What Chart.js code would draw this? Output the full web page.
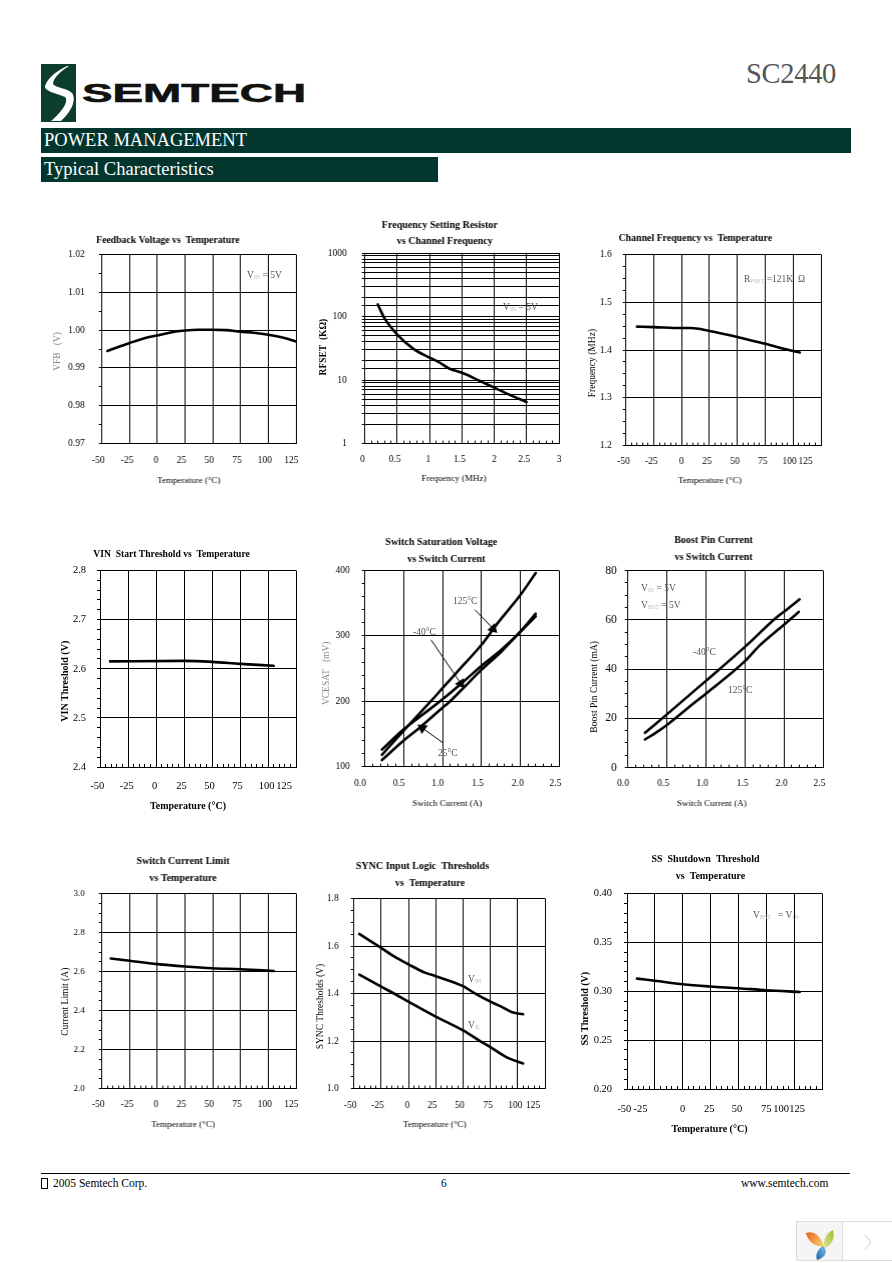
<!DOCTYPE html>
<html>
<head>
<meta charset="utf-8">
<title>SC2440 Typical Characteristics</title>
<script src="https://cdn.jsdelivr.net/npm/chart.js@4/dist/chart.umd.min.js"></script>
<style>
html, body { margin: 0; padding: 0; background: #fff; }
#page { position: relative; width: 892px; height: 1263px; overflow: hidden; font-family: "Liberation Serif", serif; color: #000; }
#page canvas { position: absolute; }
.band { position: absolute; left: 41px; background: #03352f; color: #fff; font-size: 18.5px; line-height: 25px; height: 25px; padding-left: 3px; box-sizing: border-box; }
.note { position: absolute; font-size: 9.5px; line-height: 10px; white-space: nowrap; color: #555; transform: translateY(-50%); z-index: 2; }
.note sub { font-size: 6px; color: #bbb; vertical-align: -1px; }
.foot { position: absolute; top: 1176px; font-size: 11.5px; line-height: 14px; white-space: nowrap; }
</style>
</head>
<body>
<div id="page">
  <svg style="position:absolute;left:41px;top:64px" width="265" height="58" viewBox="0 0 265 58">
    <rect x="0" y="0" width="35" height="58" fill="#0c3d2e"/>
    <path d="M26 2 C14 8 7 14 4 22 C3 27 14 29 24 33 C28 37 22 47 10 57 L20 57 C30 48 36 36 31 29 C26 24 15 24 12 20 C12 14 20 7 28 2 Z" fill="#fff"/>
    <text x="41" y="38" font-family="Liberation Sans" font-weight="bold" font-size="26" textLength="224" lengthAdjust="spacingAndGlyphs" fill="#111" stroke="#111" stroke-width="0.6">SEMTECH</text>
  </svg>
  <div style="position:absolute;left:746px;top:58px;font-size:28.5px;line-height:32px;color:#555;letter-spacing:-0.3px">SC2440</div>
  <div class="band" style="top:128px;width:810px">POWER MANAGEMENT</div>
  <div class="band" style="top:157px;width:397px">Typical Characteristics</div>

  <span class="note" style="left:247px;top:276px">V<sub>IN</sub> = 5V</span>
  <span class="note" style="left:503px;top:308px">V<sub>IN</sub> = 5V</span>
  <span class="note" style="left:744px;top:280px">R<sub>FSET</sub> =121K&nbsp;&nbsp;&Omega;</span>
  <span class="note" style="left:453px;top:601px">125°C</span>
  <span class="note" style="left:413px;top:632px">-40°C</span>
  <span class="note" style="left:438px;top:753px">25°C</span>
  <span class="note" style="left:641px;top:589px">V<sub>IN</sub> = 5V</span>
  <span class="note" style="left:641px;top:606px">V<sub>BST</sub> = 5V</span>
  <span class="note" style="left:693px;top:652px">-40°C</span>
  <span class="note" style="left:728px;top:690px">125°C</span>
  <span class="note" style="left:468px;top:980px">V<sub>IH</sub></span>
  <span class="note" style="left:468px;top:1026px">V<sub>IL</sub></span>
  <span class="note" style="left:753px;top:916px">V<sub>BST</sub>&nbsp;&nbsp;&nbsp;= V<sub>IN</sub>&nbsp;&nbsp;&nbsp;</span>

  <div style="position:absolute;left:41px;top:1173px;width:809px;height:1px;background:#000"></div>
  <span class="foot" style="left:41px;width:5px;height:9px;top:1178px;border:1px solid #000"></span>
  <span class="foot" style="left:53px">2005 Semtech Corp.</span>
  <span class="foot" style="left:441px">6</span>
  <span class="foot" style="left:741px">www.semtech.com</span>

  <div style="position:absolute;left:796px;top:1221px;width:97px;height:40px;border:1px solid #dedede;box-sizing:border-box;background:#fff">
    <div style="position:absolute;left:0;top:0;width:45px;height:38px;background:#f5f5f5;border-right:1px solid #dedede"></div>
    <svg style="position:absolute;left:9px;top:8px" width="30" height="31" viewBox="0 0 30 31">
      <defs>
        <linearGradient id="leafA" x1="0" y1="0" x2="1" y2="0.6"><stop offset="0" stop-color="#e8601a"/><stop offset="1" stop-color="#f5c96a"/></linearGradient>
        <linearGradient id="leafB" x1="1" y1="0" x2="0" y2="1"><stop offset="0" stop-color="#9cc02e"/><stop offset="1" stop-color="#dfe39a"/></linearGradient>
        <linearGradient id="leafC" x1="1" y1="0" x2="0" y2="1"><stop offset="0" stop-color="#8cc2ea"/><stop offset="1" stop-color="#0f62b0"/></linearGradient>
      </defs>
      <path d="M0 3 C6 1 14 3 18 17 C10 17 2 12 0 3 Z" fill="url(#leafA)"/>
      <path d="M18 16 C17 9 21 3 27 0 C29 8 26 15 19 18 Z" fill="url(#leafB)"/>
      <path d="M17 16 C22 20 21 27 11 30 C9 24 12 19 17 16 Z" fill="url(#leafC)"/>
    </svg>
    <svg style="position:absolute;left:66px;top:11px" width="10" height="18" viewBox="0 0 10 18"><path d="M2 2 L8 9 L2 16" fill="none" stroke="#c9c9c9"/></svg>
  </div>
</div>

<script>
// x axes
const tempTicks = [-50, -25, 0, 25, 50, 75, 100, 125];
const tempLabels = ['-50', '-25', '0', '25', '50', '75', '100', '125'];
const freqTicks = [0, 0.5, 1, 1.5, 2, 2.5, 3];
const freqLabels = ['0', '0.5', '1', '1.5', '2', '2.5', '3'];
const currentTicks = [0, 0.5, 1, 1.5, 2, 2.5];
const currentLabels = ['0.0', '0.5', '1.0', '1.5', '2.0', '2.5'];

// feedback voltage
const fbTemp = [-45, -25, -10, 0, 12, 25, 37, 50, 62, 75, 87, 100, 112, 125];
const fbVolt = [0.9945, 0.9966, 0.998, 0.9986, 0.9994, 0.9999, 1.0001, 1.0001, 1.0, 0.9996, 0.9993, 0.9988, 0.9981, 0.997];
const fbTicks = [0.97, 0.98, 0.99, 1.0, 1.01, 1.02];
const fbLabels = ['0.97', '0.98', '0.99', '1.00', '1.01', '1.02'];

// frequency setting resistor
const rfFreq = [0.2, 0.3, 0.5, 0.75, 1, 1.15, 1.3, 1.5, 1.75, 2, 2.25, 2.5];
const rfKohm = [155, 95, 52, 31, 22.5, 19, 15.2, 13, 10, 7.6, 5.8, 4.5];

// channel frequency
const chTemp = [-40, -25, 0, 8, 25, 50, 75, 100, 106];
const chFreq = [1.449, 1.448, 1.446, 1.446, 1.44, 1.4275, 1.413, 1.398, 1.395];
const chTicks = [1.2, 1.3, 1.4, 1.5, 1.6];
const chLabels = ['1.2', '1.3', '1.4', '1.5', '1.6'];

// VIN start threshold
const startTemp = [-41, 25, 50, 75, 105];
const startVolt = [2.615, 2.616, 2.614, 2.61, 2.606];
const startTicks = [2.4, 2.5, 2.6, 2.7, 2.8];
const startLabels = ['2.4', '2.5', '2.6', '2.7', '2.8'];

// switch saturation voltage
const sat125Amp = [0.22, 0.5, 0.85, 1, 1.25, 1.5, 1.7, 2, 2.2];
const sat125Mv = [118, 155, 200, 220, 253, 286, 318, 362, 396];
const satM40Amp = [0.22, 0.5, 0.75, 1, 1.25, 1.5, 1.75, 2, 2.2];
const satM40Mv = [126, 157, 180, 203, 228, 254, 278, 306, 334];
const sat25Amp = [0.22, 0.5, 0.65, 1, 1.08, 1.25, 1.5, 1.75, 2, 2.2];
const sat25Mv = [110, 140, 154, 190, 198, 218, 248, 275, 306, 330];
const satTicks = [100, 200, 300, 400];
const satLabels = ['100', '200', '300', '400'];
const arrow125Amp = [1.417, 1.652];
const arrow125Mv = [340, 311];
const arrowM40Amp = [0.852, 1.237];
const arrowM40Mv = [294, 227];
const arrow25Amp = [1.01, 0.74];
const arrow25Mv = [136, 159];

// boost pin current
const boostM40Amp = [0.22, 0.5, 1, 1.5, 1.9, 2.05, 2.2];
const boostM40Ma = [14.1, 21.6, 35.2, 49, 60.8, 64.5, 68.3];
const boost125Amp = [0.22, 0.39, 0.5, 0.84, 1, 1.5, 1.69, 2, 2.19];
const boost125Ma = [11.4, 14.8, 17.3, 26, 30, 43.2, 49.6, 58, 63.2];
const boostTicks = [0, 20, 40, 60, 80];
const boostLabels = ['0', '20', '40', '60', '80'];

// switch current limit
const limitTemp = [-42, -25, 0, 25, 50, 75, 105];
const limitAmp = [2.667, 2.655, 2.638, 2.626, 2.617, 2.612, 2.603];
const limitTicks = [2.0, 2.2, 2.4, 2.6, 2.8, 3.0];
const limitLabels = ['2.0', '2.2', '2.4', '2.6', '2.8', '3.0'];

// SYNC thresholds
const vihTemp = [-45, -25, -12, 0, 15, 25, 50, 60, 75, 85, 95, 105];
const vihVolt = [1.651, 1.592, 1.553, 1.523, 1.488, 1.473, 1.431, 1.403, 1.366, 1.345, 1.321, 1.313];
const vilTemp = [-45, -25, -12, 0, 25, 50, 66, 75, 91, 105];
const vilVolt = [1.48, 1.429, 1.397, 1.366, 1.303, 1.245, 1.199, 1.175, 1.129, 1.106];
const syncTicks = [1.0, 1.2, 1.4, 1.6, 1.8];
const syncLabels = ['1.0', '1.2', '1.4', '1.6', '1.8'];

// SS shutdown threshold
const ssTemp = [-41, -25, 0, 25, 50, 75, 105];
const ssVolt = [0.3129, 0.3108, 0.3071, 0.3048, 0.3031, 0.301, 0.2993];
const ssTicks = [0.2, 0.25, 0.3, 0.35, 0.4];
const ssLabels = ['0.20', '0.25', '0.30', '0.35', '0.40'];

const SERIF = '"Liberation Serif", serif';

// NBSP padding moves centred canvas text, the scale has no per label offset
function nudge(text, px, size) {
    const count = Math.round(Math.abs(px) * 2 / (0.25 * size));
    const pad = '\u00a0'.repeat(count);
    return px > 0 ? pad + text : text + pad;
}

function points(xs, ys) {
    return xs.map((x, i) => ({ x: x, y: ys[i] }));
}

function curve(xs, ys) {
    return {
        data: points(xs, ys),
        borderColor: '#000',
        borderWidth: 2.6,
        pointRadius: 0,
        cubicInterpolationMode: 'monotone',
        borderCapStyle: 'round',
        fill: false,
    };
}

function arrow(xs, ys, heading) {
    return {
        data: points(xs, ys),
        borderColor: '#000',
        backgroundColor: '#000',
        borderWidth: 1,
        tension: 0,
        pointStyle: 'triangle',
        pointRadius: [0, 6],
        pointBorderWidth: 0,
        pointRotation: heading,
    };
}

function stepsBetween(majors, minorStep) {
    const out = [];
    const lo = majors[0];
    const hi = majors[majors.length - 1];
    const n = Math.round((hi - lo) / minorStep);
    for (let i = 0; i <= n; i++) {
        out.push(+(lo + i * minorStep).toFixed(5));
    }
    return out;
}

function isMajor(majors, v) {
    return majors.some(m => Math.abs(m - v) < 1e-6);
}

/**
 * builds one chart; plot is the inner rectangle on the page, the canvas
 * is placed around it so that titles land where the sheet has them
 */
function addChart(o) {
    const titleSize = o.titleSize || 10;
    const titleLine = o.titleLine || 17;
    const lines = o.title.length;
    const yTitleSize = o.yTitleSize || 9.5;
    const xTitleSize = o.xTitleSize || 9;
    const tickSize = o.tickSize || 9.5;
    const yTickSize = o.yTickSize || tickSize;

    const left = o.yTitleX - yTitleSize * 0.6;
    const top = o.titleY - titleLine / 2;
    const right = o.plot.r + 18;
    const bottom = o.xTitleY + xTitleSize * 0.6;

    const canvas = document.createElement('canvas');
    canvas.style.left = left + 'px';
    canvas.style.top = top + 'px';
    canvas.style.width = (right - left) + 'px';
    canvas.style.height = (bottom - top) + 'px';
    canvas.width = right - left;
    canvas.height = bottom - top;
    document.getElementById('page').appendChild(canvas);

    // title box runs from the canvas edge to the right layout padding
    const titleMid = (left + o.plot.r) / 2;
    const titleText = o.title.map((t, i) => nudge(t, (o.titleCx[i] - titleMid), titleSize));
    const plotCx = (o.plot.l + o.plot.r) / 2;
    const plotCy = (o.plot.t + o.plot.b) / 2;

    const xOpts = {
        type: 'linear',
        min: o.xTicks[0],
        max: o.xTicks[o.xTicks.length - 1],
        afterBuildTicks: s => { s.ticks = stepsBetween(o.xTicks, o.xMinor || (o.xTicks[1] - o.xTicks[0])).map(v => ({ value: v })); },
        afterFit: s => {
            s.height = bottom - o.plot.b;
            s.paddingLeft = 0;
            s.paddingRight = 0;
        },
        grid: {
            color: c => isMajor(o.xTicks, c.tick.value) ? '#000' : 'rgba(0,0,0,0)',
            tickColor: '#000',
            tickLength: -3,
            lineWidth: 1,
        },
        border: { color: '#000' },
        ticks: {
            autoSkip: false,
            maxRotation: 0,
            color: '#000',
            padding: o.xLabelDy + 3 - tickSize * 0.6,
            font: { family: SERIF, size: tickSize },
            callback: v => {
                const i = o.xTicks.findIndex(m => Math.abs(m - v) < 1e-6);
                return i < 0 ? '' : nudge(o.xLabels[i], o.xNudge[i], tickSize);
            },
        },
        title: {
            display: true,
            text: nudge(o.xTitle, o.xTitleCx - plotCx, xTitleSize),
            color: '#000',
            padding: 0,
            font: { family: SERIF, size: xTitleSize, weight: o.xTitleBold ? 'bold' : 'normal', lineHeight: 1.2 },
        },
    };

    const yOpts = {
        min: o.yTicks[0],
        max: o.yTicks[o.yTicks.length - 1],
        afterFit: s => {
            s.width = o.plot.l - left;
            s.paddingTop = 0;
            s.paddingBottom = 0;
        },
        grid: {
            color: '#000',
            tickColor: '#000',
            tickLength: 3,
            lineWidth: 1,
        },
        border: { color: '#000' },
        ticks: {
            autoSkip: false,
            color: '#000',
            padding: o.yLabelGap - 3,
            font: { family: SERIF, size: yTickSize },
        },
        title: {
            display: true,
            text: nudge(o.yTitle, -(o.yTitleCy - plotCy), yTitleSize),
            color: o.yTitleColor || '#000',
            padding: 0,
            font: { family: SERIF, size: yTitleSize, weight: o.yTitleBold ? 'bold' : 'normal', lineHeight: 1.2 },
        },
    };

    if (o.logY) {
        yOpts.type = 'logarithmic';
        yOpts.ticks.callback = v => (isMajor(o.yTicks, v) ? String(v) : '');
    } else {
        yOpts.type = 'linear';
        yOpts.afterBuildTicks = s => { s.ticks = stepsBetween(o.yTicks, o.yMinor).map(v => ({ value: v })); };
        yOpts.grid.color = c => isMajor(o.yTicks, c.tick.value) ? '#000' : 'rgba(0,0,0,0)';
        yOpts.ticks.callback = v => {
            const i = o.yTicks.findIndex(m => Math.abs(m - v) < 1e-6);
            return i < 0 ? '' : o.yLabels[i];
        };
    }

    return new Chart(canvas, {
        type: 'line',
        data: { datasets: o.datasets },
        options: {
            responsive: false,
            animation: false,
            devicePixelRatio: 1,
            layout: { padding: { right: right - o.plot.r } },
            plugins: {
                legend: { display: false },
                tooltip: { enabled: false },
                title: {
                    display: true,
                    text: titleText,
                    color: '#000',
                    padding: { top: 0, bottom: (o.plot.t - top) - lines * titleLine },
                    font: { family: SERIF, size: titleSize, weight: 'bold', lineHeight: titleLine / titleSize },
                },
            },
            scales: { x: xOpts, y: yOpts },
        },
    });
}

addChart({
    plot: { l: 102, t: 254, r: 296, b: 444 },
    title: ['Feedback Voltage vs  Temperature'], titleCx: [168.5], titleY: 240, titleSize: 9.7,
    xTicks: tempTicks, xLabels: tempLabels, xNudge: [-4, -2, -1, -3, -3, -3, -3, -5], xLabelDy: 17,
    xTitle: 'Temperature (°C)', xTitleCx: 188.5, xTitleY: 481,
    yTicks: fbTicks, yLabels: fbLabels, yMinor: 0.005, yLabelGap: 17,
    yTitle: 'VFB   (V)', yTitleX: 58, yTitleCy: 351, yTitleColor: '#888',
    datasets: [curve(fbTemp, fbVolt)],
});

addChart({
    plot: { l: 365, t: 253, r: 559, b: 444 },
    title: ['Frequency Setting Resistor', 'vs Channel Frequency'], titleCx: [439.5, 444.5], titleY: 225, titleLine: 16,
    xTicks: freqTicks, xLabels: freqLabels, xNudge: [-2, -2, -1, -2, 0, -2, 0], xMinor: 0.1, xLabelDy: 16,
    xTitle: 'Frequency (MHz)', xTitleCx: 454, xTitleY: 479,
    yTicks: [1, 10, 100, 1000], logY: true, yLabelGap: 18,
    yTitle: 'RFSET  (KΩ)', yTitleX: 324, yTitleCy: 347, yTitleBold: true,
    datasets: [curve(rfFreq, rfKohm)],
});

addChart({
    plot: { l: 626, t: 254, r: 821, b: 446 },
    title: ['Channel Frequency vs  Temperature'], titleCx: [695], titleY: 238, titleSize: 9.8,
    xTicks: tempTicks, xLabels: tempLabels, xNudge: [-2, -2, 0, -2, -2, -2, -3, -15], xMinor: 5, xLabelDy: 16,
    xTitle: 'Temperature (°C)', xTitleCx: 710.5, xTitleY: 481,
    yTicks: chTicks, yLabels: chLabels, yMinor: 0.025, yLabelGap: 14,
    yTitle: 'Frequency (MHz)', yTitleX: 593, yTitleCy: 363,
    datasets: [curve(chTemp, chFreq)],
});

addChart({
    plot: { l: 100, t: 570, r: 296, b: 767 },
    title: ['VIN  Start Threshold vs  Temperature'], titleCx: [171.5], titleY: 554, titleSize: 9.6,
    xTicks: tempTicks, xLabels: tempLabels, xNudge: [-3, -1, -1, -2, -2, -2, -1, -12], xMinor: 5, xLabelDy: 19, tickSize: 10.5,
    xTitle: 'Temperature (°C)', xTitleCx: 187.5, xTitleY: 806, xTitleBold: true, xTitleSize: 10,
    yTicks: startTicks, yLabels: startLabels, yMinor: 0.02, yLabelGap: 14,
    yTitle: 'VIN Threshold (V)', yTitleX: 65, yTitleCy: 681, yTitleBold: true, yTitleSize: 10,
    datasets: [curve(startTemp, startVolt)],
});

addChart({
    plot: { l: 365, t: 570, r: 559, b: 767 },
    title: ['Switch Saturation Voltage', 'vs Switch Current'], titleCx: [441.5, 447], titleY: 542,
    xTicks: currentTicks, xLabels: currentLabels, xNudge: [-5, -5, -5, -3, -2, -3], xMinor: 0.1, xLabelDy: 17,
    xTitle: 'Switch Current (A)', xTitleCx: 447.5, xTitleY: 804,
    yTicks: satTicks, yLabels: satLabels, yMinor: 20, yLabelGap: 15,
    yTitle: 'VCESAT   (mV)', yTitleX: 327, yTitleCy: 673, yTitleColor: '#888',
    datasets: [
        curve(sat125Amp, sat125Mv),
        curve(satM40Amp, satM40Mv),
        curve(sat25Amp, sat25Mv),
        arrow(arrow125Amp, arrow125Mv, 136),
        arrow(arrowM40Amp, arrowM40Mv, 146),
        arrow(arrow25Amp, arrow25Mv, -54),
    ],
});

addChart({
    plot: { l: 628, t: 570, r: 823, b: 768 },
    title: ['Boost Pin Current', 'vs Switch Current'], titleCx: [713.5, 713.5], titleY: 540,
    xTicks: currentTicks, xLabels: currentLabels, xNudge: [-5, -3, -3, -2, -2, -3], xMinor: 0.1, xLabelDy: 16,
    xTitle: 'Switch Current (A)', xTitleCx: 712.5, xTitleY: 804,
    yTicks: boostTicks, yLabels: boostLabels, yMinor: 5, yLabelGap: 11, yTickSize: 11.5,
    yTitle: 'Boost Pin Current (mA)', yTitleX: 595, yTitleCy: 687,
    datasets: [curve(boostM40Amp, boostM40Ma), curve(boost125Amp, boost125Ma)],
});

addChart({
    plot: { l: 102, t: 893, r: 296, b: 1089 },
    title: ['Switch Current Limit', 'vs Temperature'], titleCx: [183, 183], titleY: 861,
    xTicks: tempTicks, xLabels: tempLabels, xNudge: [-4, -2, -1, -3, -3, -3, -3, -5], xMinor: 5, xLabelDy: 16,
    xTitle: 'Temperature (°C)', xTitleCx: 183.5, xTitleY: 1125,
    yTicks: limitTicks, yLabels: limitLabels, yMinor: 0.05, yLabelGap: 17, yTickSize: 9,
    yTitle: 'Current Limit (A)', yTitleX: 66, yTitleCy: 1002,
    datasets: [curve(limitTemp, limitAmp)],
});

addChart({
    plot: { l: 354, t: 898, r: 545, b: 1089 },
    title: ['SYNC Input Logic  Thresholds', 'vs  Temperature'], titleCx: [423, 430], titleY: 866,
    xTicks: tempTicks, xLabels: tempLabels, xNudge: [-4, -4, -1, -3, -3, -2, -2, -12], xMinor: 5, xLabelDy: 17,
    xTitle: 'Temperature (°C)', xTitleCx: 435, xTitleY: 1125,
    yTicks: syncTicks, yLabels: syncLabels, yMinor: 0.05, yLabelGap: 15,
    yTitle: 'SYNC Thresholds (V)', yTitleX: 321, yTitleCy: 1007,
    datasets: [curve(vihTemp, vihVolt), curve(vilTemp, vilVolt)],
});

addChart({
    plot: { l: 627, t: 893, r: 822, b: 1089 },
    title: ['SS  Shutdown  Threshold', 'vs  Temperature'], titleCx: [705.5, 710], titleY: 859,
    xTicks: tempTicks, xLabels: tempLabels, xNudge: [-2, -14, 0, -1, -1, 0, -13, -25], xMinor: 5, xLabelDy: 20, tickSize: 10.5,
    xTitle: 'Temperature (°C)', xTitleCx: 709.5, xTitleY: 1129, xTitleBold: true, xTitleSize: 10,
    yTicks: ssTicks, yLabels: ssLabels, yMinor: 0.01, yLabelGap: 15,
    yTitle: 'SS Threshold (V)', yTitleX: 585, yTitleCy: 1008, yTitleBold: true, yTitleSize: 10,
    datasets: [curve(ssTemp, ssVolt)],
});
</script>
</body>
</html>
